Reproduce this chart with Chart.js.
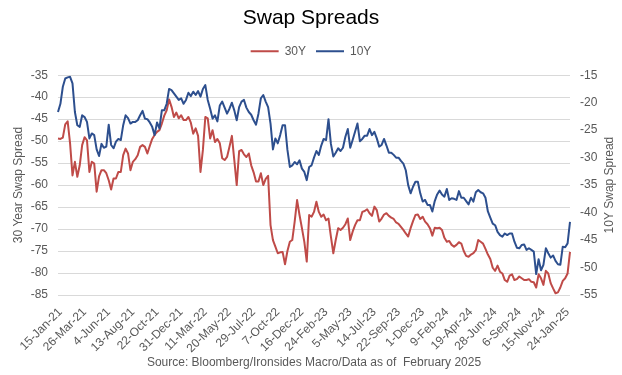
<!DOCTYPE html>
<html>
<head>
<meta charset="utf-8">
<script src="https://cdn.jsdelivr.net/npm/chart.js@4.4.1/dist/chart.umd.min.js"></script>
<style>
  html, body { margin: 0; padding: 0; background: #fff; }
  canvas { display: block; }
</style>
</head>
<body>
<canvas id="swaps" width="622" height="375"></canvas>
<script>
// dados semanais (sexta-feira de cada semana)
var inicioSemanas = [2021, 0, 8]; // 8-Jan-21, primeira semana
var totalSemanas = 213;

// 30Y swap spread (eixo esquerdo)
var spread30 = [
  -49.4, -49.5, -49.2, -46.2, -45.5, -50.5, -57.8, -54.7, -58.1, -55.5,
  -50.9, -49.1, -49.8, -57.0, -54.7, -55.1, -61.5, -58.0, -56.6, -56.6,
  -57.3, -58.9, -61.0, -58.5, -58.5, -57.0, -57.0, -53.2, -51.7, -52.8,
  -56.6, -54.7, -54.1, -53.2, -51.3, -50.9, -51.3, -52.8, -51.1, -49.5,
  -48.6, -47.9, -47.5, -46.0, -44.2, -43.0, -40.5, -42.2, -44.5, -43.5,
  -44.8, -44.1, -45.2, -45.2, -44.5, -45.8, -48.3, -47.1, -48.8, -57.0,
  -52.0, -44.5, -44.8, -49.4, -47.5, -50.2, -49.5, -50.5, -53.9, -54.3,
  -53.6, -51.3, -48.8, -54.3, -60.0, -52.3, -52.0, -53.0, -53.6, -52.8,
  -55.5, -57.1, -59.2, -59.2, -57.3, -60.0, -58.6, -57.9, -69.1, -72.5,
  -74.0, -75.5, -75.3, -75.2, -78.0, -75.0, -72.9, -72.5, -68.3, -63.4,
  -66.8, -69.8, -72.9, -77.4, -66.8, -67.2, -66.1, -63.8, -66.1, -67.2,
  -66.7, -68.0, -67.6, -71.7, -75.5, -72.5, -69.8, -70.2, -69.7, -68.9,
  -67.6, -72.5, -70.6, -69.1, -68.0, -68.0, -66.1, -65.9, -65.5, -66.4,
  -67.0, -64.9, -65.7, -68.3, -67.6, -66.7, -66.4, -67.0, -67.4, -67.7,
  -68.5, -68.8, -69.5, -70.2, -71.0, -71.7, -69.8, -68.2, -66.8, -66.7,
  -67.7, -67.2, -68.3, -68.9, -69.8, -71.5, -69.7, -69.8, -69.7, -70.2,
  -72.0, -72.9, -72.7, -73.6, -74.0, -73.6, -73.0, -73.3, -75.0, -76.1,
  -76.3, -75.8, -75.5, -74.8, -72.5, -72.9, -73.3, -74.5, -75.8, -76.8,
  -78.8, -79.5, -78.3, -79.7, -80.1, -81.6, -82.0, -80.6, -80.3, -81.6,
  -81.4, -80.8, -81.2, -81.6, -81.6, -81.4, -82.0, -82.1, -83.3, -80.3,
  -81.2, -82.7, -79.5, -80.1, -82.3, -83.5, -84.6, -84.4, -83.3, -81.8,
  -81.2, -80.1, -75.2
];

// 10Y swap spread (eixo direito)
var spread10 = [
  -21.7, -20.2, -17.1, -15.6, -15.4, -15.3, -16.5, -21.7, -24.1, -24.4,
  -22.3, -22.6, -23.5, -26.5, -25.6, -25.9, -28.5, -29.7, -27.5, -28.2,
  -28.0, -24.0, -27.7, -28.3, -27.1, -26.6, -26.8, -24.1, -22.3, -22.8,
  -23.8, -23.5, -23.5, -23.2, -22.3, -21.5, -22.9, -23.0, -23.6, -24.4,
  -25.9, -23.6, -24.7, -21.4, -21.4, -20.2, -17.5, -17.7, -18.3, -18.9,
  -19.5, -19.2, -20.2, -19.5, -18.2, -18.8, -18.0, -18.6, -17.9, -18.9,
  -17.5, -16.8, -19.5, -21.1, -22.9, -22.3, -23.4, -20.5, -19.8, -20.9,
  -22.0, -21.1, -20.0, -21.4, -23.2, -20.8, -19.8, -19.5, -20.9, -21.7,
  -22.2, -23.2, -24.0, -22.0, -19.2, -18.6, -19.8, -20.8, -23.8, -28.5,
  -26.5, -27.4, -25.9, -24.1, -24.1, -28.6, -31.7, -31.4, -30.8, -31.2,
  -30.5, -32.0, -32.6, -34.1, -31.7, -31.4, -30.0, -28.8, -29.5, -27.8,
  -26.6, -26.8, -23.0, -27.5, -29.8, -29.1, -28.3, -28.8, -28.2, -26.2,
  -24.8, -28.2, -26.8, -25.3, -23.8, -27.0, -26.6, -26.0, -26.0, -24.8,
  -25.9, -25.3, -26.5, -28.0, -27.7, -26.6, -27.8, -29.1, -29.1, -29.5,
  -30.0, -30.0, -30.6, -31.1, -32.3, -35.0, -36.5, -35.3, -34.4, -34.4,
  -36.5, -38.0, -37.7, -38.6, -38.6, -39.8, -37.9, -36.7, -36.0, -36.7,
  -37.1, -35.7, -37.7, -37.4, -37.5, -37.7, -36.1, -37.3, -37.3, -37.9,
  -38.5, -37.3, -38.0, -36.3, -35.9, -36.3, -36.5, -37.3, -39.8, -40.9,
  -42.0, -42.3, -43.5, -44.1, -44.4, -43.8, -44.1, -43.8, -43.8, -45.3,
  -46.4, -46.5, -45.9, -45.8, -46.8, -46.5, -46.8, -47.1, -51.2, -48.5,
  -50.5, -49.5, -46.5, -47.4, -48.2, -47.8, -48.8, -49.4, -49.5, -46.2,
  -46.3, -45.6, -41.7
];

var nomesSeries = ['30Y', '10Y'];
var titulosEixos = ['30 Year Swap Spread', '10Y Swap Spread'];
var limites30 = [-85, -35]; // min, max eixo esquerdo
var limites10 = [-55, -15]; // min, max eixo direito
var passoTicks = 5;
var intervaloRotulos = 10; // um rotulo a cada 10 semanas
var tituloGrafico = 'Swap Spreads';
var fonteDados = 'Source: Bloomberg/Ironsides Macro/Data as of  February 2025';

// monta os rotulos das semanas no formato 15-Jan-21
var meses = ['Jan', 'Feb', 'Mar', 'Apr', 'May', 'Jun', 'Jul', 'Aug', 'Sep', 'Oct', 'Nov', 'Dec'];
var semanas = [];
for (var i = 0; i < totalSemanas; i++) {
  var d = new Date(Date.UTC(inicioSemanas[0], inicioSemanas[1], inicioSemanas[2] + 7 * i));
  semanas.push(d.getUTCDate() + '-' + meses[d.getUTCMonth()] + '-' + String(d.getUTCFullYear()).slice(2));
}

var cinza = '#595959';
Chart.defaults.font.family = "'Liberation Sans', Arial, sans-serif";
Chart.defaults.color = cinza;

// empurra a area do grafico um pouco para baixo da legenda
var ajusteLegenda = {
  id: 'ajusteLegenda',
  beforeLayout: function(chart) {
    var lg = chart.legend;
    if (lg && !lg._ajustado) {
      var fitOriginal = lg.fit;
      lg.fit = function() { fitOriginal.call(this); this.height += 8; };
      lg._ajustado = true;
    }
  }
};

// titulo do eixo direito lido de baixo para cima, como no original
var tituloDireita = {
  id: 'tituloDireita',
  afterDraw: function(chart) {
    var ctx = chart.ctx;
    var area = chart.chartArea;
    ctx.save();
    ctx.translate(610, (area.top + area.bottom) / 2);
    ctx.rotate(-Math.PI / 2);
    ctx.font = "12px 'Liberation Sans', Arial, sans-serif";
    ctx.fillStyle = cinza;
    ctx.textAlign = 'center';
    ctx.textBaseline = 'middle';
    ctx.fillText(titulosEixos[1], 0, 0);
    ctx.restore();
  }
};

var dadosGrafico = {
  labels: semanas,
  datasets: [{
    label: nomesSeries[0],
    data: spread30,
    yAxisID: 'y',
    borderColor: '#BF4B48',
    backgroundColor: '#BF4B48',
    borderWidth: 2,
    pointRadius: 0,
    borderJoinStyle: 'round',
    order: 1
  }, {
    label: nomesSeries[1],
    data: spread10,
    yAxisID: 'y1',
    borderColor: '#2D4F8E',
    backgroundColor: '#2D4F8E',
    borderWidth: 2,
    pointRadius: 0,
    borderJoinStyle: 'round',
    order: 0 // desenhado por cima
  }]
};

var opcoes = {
  responsive: false,
  animation: false,
  layout: { padding: 0 },
  scales: {
    x: {
      grid: { display: false },
      border: { display: false },
      ticks: {
        autoSkip: false,
        minRotation: 45,
        maxRotation: 45,
        padding: 2,
        font: { size: 12 },
        callback: function(valor, indice) {
          return indice % intervaloRotulos === 1 ? this.getLabelForValue(valor) : '';
        }
      },
      title: {
        display: true,
        text: fonteDados,
        font: { size: 12 },
        padding: { top: 0, bottom: 5 }
      },
      afterFit: function(scale) { scale.height = 80; }
    },
    y: {
      position: 'left',
      min: limites30[0],
      max: limites30[1],
      ticks: { stepSize: passoTicks, padding: 10, font: { size: 12 } },
      grid: { color: '#D9D9D9', drawTicks: false },
      border: { display: false },
      title: {
        display: true,
        text: titulosEixos[0],
        font: { size: 12 },
        padding: { top: 11, bottom: 0 }
      },
      afterFit: function(scale) { scale.width = 58; }
    },
    y1: {
      position: 'right',
      min: limites10[0],
      max: limites10[1],
      ticks: { stepSize: passoTicks, padding: 10, font: { size: 12 } },
      grid: { display: false, drawTicks: false },
      border: { display: false },
      afterFit: function(scale) { scale.width = 52; }
    }
  },
  plugins: {
    title: {
      display: true,
      text: tituloGrafico,
      color: '#000',
      font: { size: 21, weight: 'normal' },
      padding: { top: 6, bottom: 4 }
    },
    legend: {
      labels: {
        usePointStyle: true,
        pointStyle: 'line',
        pointStyleWidth: 28,
        padding: 10,
        font: { size: 12 },
        color: cinza,
        sort: function(a, b) { return a.datasetIndex - b.datasetIndex; } // 30Y primeiro
      }
    },
    tooltip: { enabled: false }
  }
};

var graficoSwaps = new Chart(document.getElementById('swaps'), {
  type: 'line',
  data: dadosGrafico,
  options: opcoes,
  plugins: [ajusteLegenda, tituloDireita]
});
</script>
</body>
</html>
